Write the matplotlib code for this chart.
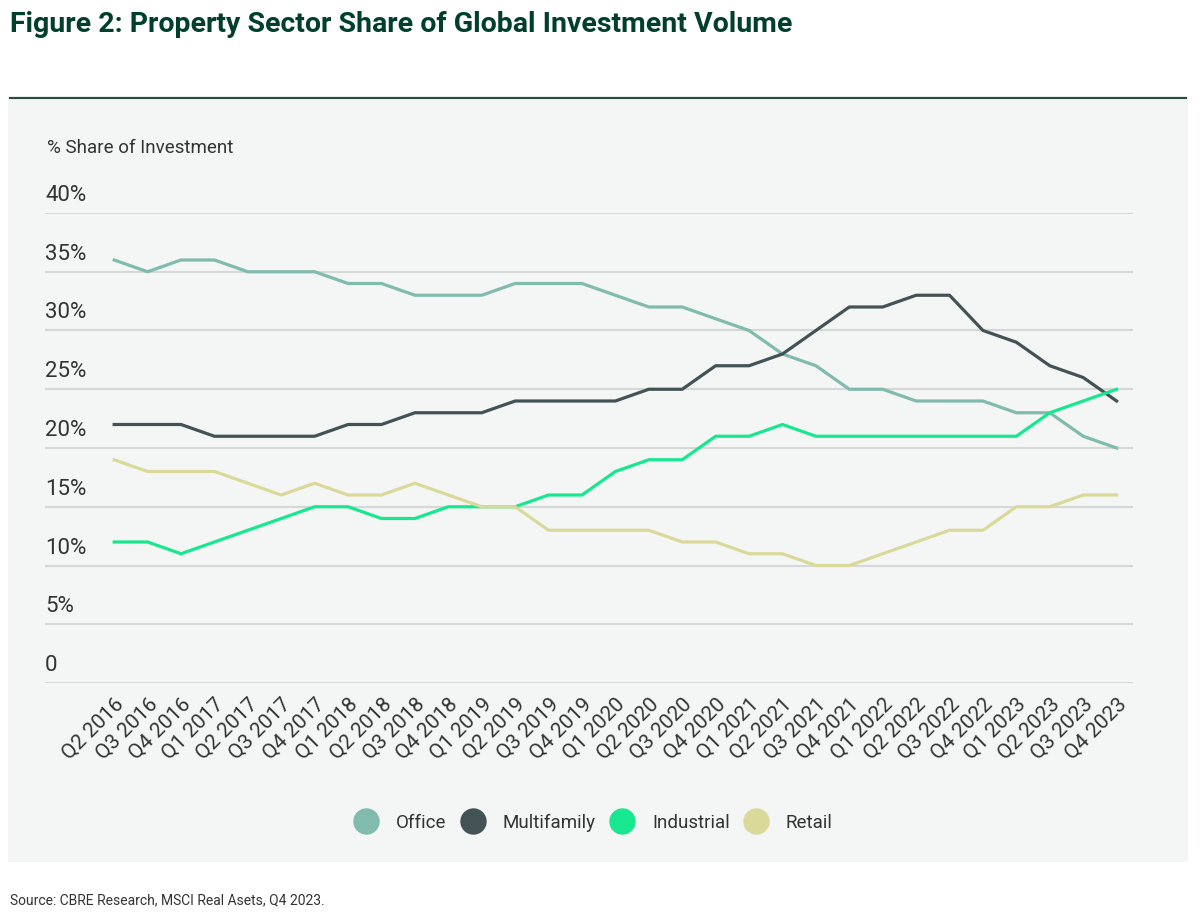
import matplotlib.pyplot as plt
import matplotlib.transforms as mtransforms
from matplotlib.lines import Line2D
from matplotlib.patches import Rectangle

quarters = ['Q2 2016', 'Q3 2016', 'Q4 2016', 'Q1 2017', 'Q2 2017', 'Q3 2017', 'Q4 2017',
            'Q1 2018', 'Q2 2018', 'Q3 2018', 'Q4 2018', 'Q1 2019', 'Q2 2019', 'Q3 2019',
            'Q4 2019', 'Q1 2020', 'Q2 2020', 'Q3 2020', 'Q4 2020', 'Q1 2021', 'Q2 2021',
            'Q3 2021', 'Q4 2021', 'Q1 2022', 'Q2 2022', 'Q3 2022', 'Q4 2022', 'Q1 2023',
            'Q2 2023', 'Q3 2023', 'Q4 2023']

office = [36, 35, 36, 36, 35, 35, 35, 34, 34, 33, 33, 33, 34, 34, 34, 33,
          32, 32, 31, 30, 28, 27, 25, 25, 24, 24, 24, 23, 23, 21, 20]
multifamily = [22, 22, 22, 21, 21, 21, 21, 22, 22, 23, 23, 23, 24, 24, 24, 24,
               25, 25, 27, 27, 28, 30, 32, 32, 33, 33, 30, 29, 27, 26, 24]
industrial = [12, 12, 11, 12, 13, 14, 15, 15, 14, 14, 15, 15, 15, 16, 16, 18,
              19, 19, 21, 21, 22, 21, 21, 21, 21, 21, 21, 21, 23, 24, 25]
retail = [19, 18, 18, 18, 17, 16, 17, 16, 16, 17, 16, 15, 15, 13, 13, 13,
          13, 12, 12, 11, 11, 10, 10, 11, 12, 13, 13, 15, 15, 16, 16]

yticks = [0, 5, 10, 15, 20, 25, 30, 35, 40]
ytick_labels = ['0', '5%', '10%', '15%', '20%', '25%', '30%', '35%', '40%']

series = [('Office', office, '#80BBAD'),
          ('Multifamily', multifamily, '#435254'),
          ('Industrial', industrial, '#17E88F'),
          ('Retail', retail, '#DBD99A')]

plt.rcParams['font.family'] = ['Roboto', 'DejaVu Sans']
text_col = '#333333'
W, H = 1200, 913

fig = plt.figure(figsize=(12, 9.13), dpi=100)
fig.patch.set_facecolor('white')

# grey panel + top rule
fig.add_artist(Rectangle((8 / W, 1 - 862 / H), 1180 / W, 762 / H,
                         transform=fig.transFigure, facecolor='#F4F5F5',
                         edgecolor='none', zorder=-10))
fig.add_artist(Line2D([10 / W, 1186 / W], [1 - 98 / H, 1 - 98 / H],
                      transform=fig.transFigure, color='#2B4A44', lw=1.6))

fig.text(10 / W, 1 - 24 / H, 'Figure 2: Property Sector Share of Global Investment Volume',
         fontsize=20.5, fontweight='bold', color='#003F2D', va='center', ha='left')
fig.text(47 / W, 1 - 148 / H, '% Share of Investment', fontsize=13.5, color=text_col,
         va='center', ha='left')
fig.text(10 / W, 1 - 900 / H, 'Source: CBRE Research, MSCI Real Asets, Q4 2023.',
         fontsize=10, color=text_col, va='center', ha='left')

ax = fig.add_axes([45 / W, 1 - 683 / H, 1088 / W, 470 / H])
ax.set_facecolor('none')

x = list(range(len(quarters)))
for name, vals, col in series:
    ax.plot(x, vals, color=col, lw=2.3, label=name, zorder=3)

ax.set_ylim(0, 40)
ax.set_xlim(-2.07, 30.49)
ax.set_yticks(yticks)
ax.set_yticklabels([])
ax.yaxis.grid(True, color='#D6D8D8', lw=1.5, zorder=1)
ax.set_axisbelow(True)
for s in ax.spines.values():
    s.set_visible(False)
ax.tick_params(left=False, bottom=False)

ax.set_xticks(x)
ax.set_xticklabels(quarters, rotation=45, ha='right', va='top', rotation_mode='anchor',
                   fontsize=15, color=text_col)
ax.tick_params(axis='x', pad=5)

# y labels sit above the gridlines
off = mtransforms.offset_copy(ax.get_yaxis_transform(), fig=fig, x=0, y=7, units='dots')
for v, lab in zip(yticks, ytick_labels):
    ax.text(0, v, lab, transform=off, fontsize=16, color=text_col, ha='left', va='bottom')

handles = [Line2D([], [], ls='none', marker='o', markersize=18, color=c,
                  markeredgecolor=c) for _, _, c in series]
fig.legend(handles, [n for n, _, _ in series], loc='center', ncol=4,
           bbox_to_anchor=(590 / W, 1 - 823 / H), frameon=False, fontsize=13.5,
           handletextpad=0.6, columnspacing=0.4, labelcolor=text_col)

fig.savefig('out.png', dpi=100)
